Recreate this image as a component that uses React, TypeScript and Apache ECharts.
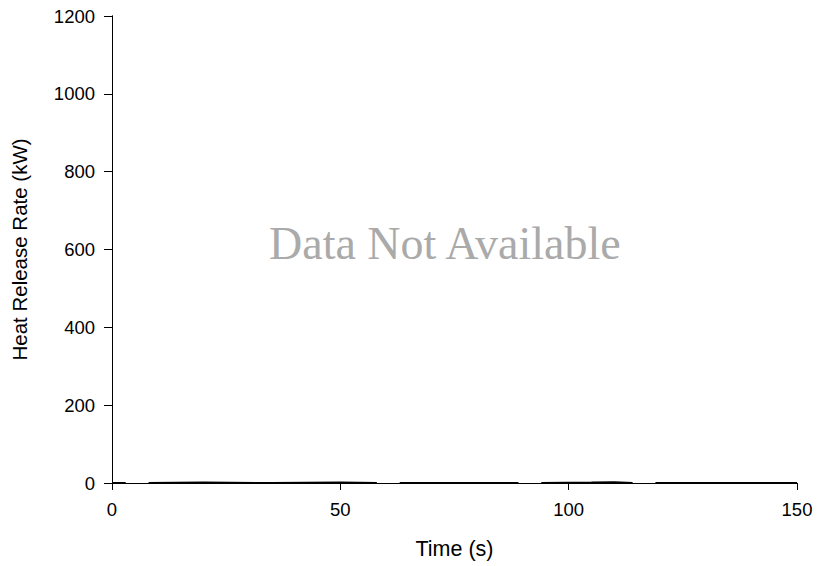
import React, { useEffect, useRef } from "react";
import * as echarts from "echarts";

const timeSeconds: number[] = [0, 3, 5, 8, 20, 35, 50, 58, 60, 63, 75, 89, 91, 94, 105, 110, 114, 116, 119, 130, 150];
const heatReleaseKW: (number | null)[] = [0, 0, null, 0, 1, 0, 1, 0, null, 0, 0, 0, null, 0, 1, 2, 0, null, 0, 0, 0];
const yTicks = { min: 0, max: 1200, interval: 200 };
const xTicks = { min: 0, max: 150, interval: 50 };
const noDataText = "Data Not Available";

export default function App() {
  const ref = useRef<HTMLDivElement>(null);
  useEffect(() => {
    document.body.style.margin = "0";
    if (!ref.current) return;
    const chart = echarts.init(ref.current, undefined, { renderer: "svg" });
    const font = "Liberation Sans";
    const hidden = { show: false };
    chart.setOption({
      animation: false,
      backgroundColor: "#fff",
      grid: { left: 112, right: 20, top: 16, bottom: 83, show: false },
      xAxis: [
        {
          type: "value",
          position: "bottom",
          min: xTicks.min,
          max: xTicks.max,
          interval: xTicks.interval,
          name: "Time (s)",
          nameLocation: "middle",
          nameGap: 55,
          nameMoveOverlap: false,
          nameTextStyle: { fontFamily: font, fontSize: 21.5, color: "#000" },
          axisLine: { show: true, onZero: false, lineStyle: { color: "#808080", width: 1 } },
          axisTick: { show: true, inside: false, length: 7, lineStyle: { color: "#000" } },
          axisLabel: { fontFamily: font, fontSize: 18.5, color: "#000", margin: 17 },
          splitLine: hidden,
        },
        {
          type: "value",
          position: "top",
          min: xTicks.min,
          max: xTicks.max,
          axisLine: { show: true, lineStyle: { color: "#000", width: 1 } },
          axisTick: hidden,
          axisLabel: hidden,
          splitLine: hidden,
        },
      ],
      yAxis: [
        {
          type: "value",
          position: "left",
          min: yTicks.min,
          max: yTicks.max,
          interval: yTicks.interval,
          name: "Heat Release Rate (kW)",
          nameLocation: "middle",
          nameGap: 82,
          nameMoveOverlap: false,
          nameTextStyle: { fontFamily: font, fontSize: 20.5, color: "#000" },
          axisLine: { show: true, onZero: false, lineStyle: { color: "#000", width: 1 } },
          axisTick: { show: true, inside: false, length: 8, lineStyle: { color: "#000" } },
          axisLabel: { fontFamily: font, fontSize: 18.5, color: "#000", margin: 17, formatter: (v: number) => String(v) },
          splitLine: hidden,
        },
        {
          type: "value",
          position: "right",
          min: yTicks.min,
          max: yTicks.max,
          axisLine: { show: true, lineStyle: { color: "#000", width: 1 } },
          axisTick: hidden,
          axisLabel: hidden,
          splitLine: hidden,
        },
      ],
      graphic: [
        {
          type: "text",
          x: 269,
          y: 243,
          style: {
            text: noDataText,
            fontFamily: "Liberation Serif",
            fontSize: 46,
            fill: "#aaaaaa",
            verticalAlign: "middle",
          },
        },
      ],
      series: [
        {
          type: "line",
          xAxisIndex: 0,
          yAxisIndex: 0,
          data: timeSeconds.map((t, i) => [t, heatReleaseKW[i]]),
          showSymbol: false,
          connectNulls: false,
          lineStyle: { color: "#000", width: 2 },
        },
      ],
    });
    return () => chart.dispose();
  }, []);
  return <div ref={ref} style={{ position: "absolute", left: 0, top: 0, width: 817, height: 566 }} />;
}
